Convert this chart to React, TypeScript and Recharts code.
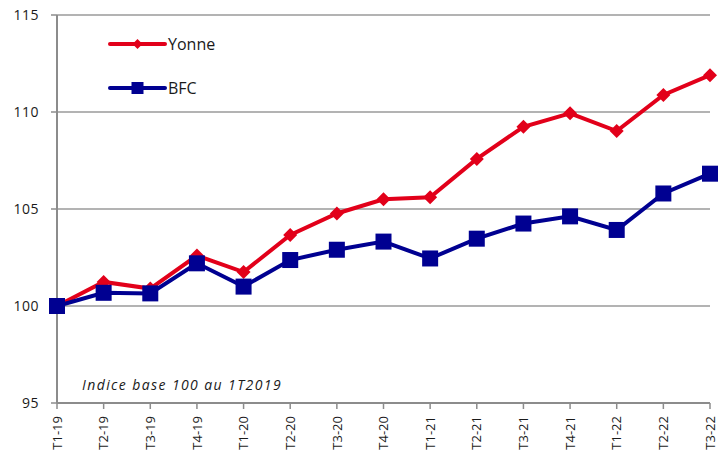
import * as React from 'react';
import { LineChart, Line, XAxis, YAxis, CartesianGrid } from 'recharts';

const quarters = ['T1-19', 'T2-19', 'T3-19', 'T4-19', 'T1-20', 'T2-20', 'T3-20', 'T4-20', 'T1-21', 'T2-21', 'T3-21', 'T4-21', 'T1-22', 'T2-22', 'T3-22'];
const yonne = [100, 101.24, 100.9, 102.6, 101.75, 103.66, 104.77, 105.5, 105.6, 107.58, 109.24, 109.93, 109.02, 110.88, 111.9];
const bfc = [100, 100.68, 100.65, 102.2, 101.0, 102.37, 102.9, 103.32, 102.45, 103.47, 104.25, 104.62, 103.92, 105.8, 106.82];
const yTicks = [95, 100, 105, 110, 115];
const note = 'Indice base 100 au 1T2019';

const data = quarters.map((q, i) => ({ name: q, Yonne: yonne[i], BFC: bfc[i] }));

const FONT = '"Open Sans", Lato, sans-serif';
const RED = '#e2001a';
const BLUE = '#000091';
const AXIS = '#8c8c8c';
const TEXT = '#1a1a1a';

const XTick = (props: any) => {
    const { x, y, payload } = props;
    return (
        <text transform={`translate(${x},${y}) rotate(-90)`} textAnchor="end" dy="0.36em"
            fontSize={13} fill={TEXT} fontFamily={FONT}>
            {payload.value}
        </text>
    );
};

const Diamond = (props: any) => {
    const { cx, cy } = props;
    if (cx == null || cy == null) return null;
    const r = 7;
    return <path d={`M${cx},${cy - r}L${cx + r},${cy}L${cx},${cy + r}L${cx - r},${cy}Z`} fill={RED} />;
};

const Square = (props: any) => {
    const { cx, cy } = props;
    if (cx == null || cy == null) return null;
    const s = 8;
    return <rect x={cx - s} y={cy - s} width={2 * s} height={2 * s} fill={BLUE} />;
};

// legend drawn as an overlay so it does not take space from the plot
const LegendBox = () => (
    <svg width={140} height={80} style={{ position: 'absolute', left: 108, top: 28 }}>
        <line x1={2} y1={16} x2={57} y2={16} stroke={RED} strokeWidth={4} strokeLinecap="round" />
        <path d="M29.5,11L34.5,16L29.5,21L24.5,16Z" fill={RED} />
        <text x={60} y={21.5} fontSize={16} fill={TEXT} fontFamily={FONT}>Yonne</text>
        <line x1={2} y1={60} x2={57} y2={60} stroke={BLUE} strokeWidth={4} strokeLinecap="round" />
        <rect x={23.5} y={54} width={12} height={12} fill={BLUE} />
        <text x={60} y={65.5} fontSize={16} fill={TEXT} fontFamily={FONT}>BFC</text>
    </svg>
);

export default function App() {
    return (
        <div style={{ margin: -8, position: 'relative', width: 728, height: 464, background: '#fff' }}>
            <LineChart width={728} height={464} data={data} margin={{ top: 15, right: 18, left: 0, bottom: 0 }}>
                <CartesianGrid vertical={false} stroke="#9a9a9a" strokeWidth={1.5} />
                <XAxis dataKey="name" interval={0} height={61} tick={<XTick />} tickSize={6} tickMargin={7}
                    axisLine={{ stroke: AXIS, strokeWidth: 2 }} tickLine={{ stroke: AXIS, strokeWidth: 1.5 }} />
                <YAxis domain={[95, 115]} ticks={yTicks} width={57} tickSize={6} tickMargin={12}
                    tick={{ fontSize: 14, fill: TEXT, fontFamily: FONT, letterSpacing: 0.5 }}
                    axisLine={{ stroke: AXIS, strokeWidth: 2 }} tickLine={{ stroke: AXIS, strokeWidth: 1.5 }} />
                <Line type="linear" dataKey="Yonne" stroke={RED} strokeWidth={4} dot={<Diamond />} activeDot={false} isAnimationActive={false} />
                <Line type="linear" dataKey="BFC" stroke={BLUE} strokeWidth={4} dot={<Square />} activeDot={false} isAnimationActive={false} />
            </LineChart>
            <LegendBox />
            <div style={{ position: 'absolute', left: 82, top: 375, fontFamily: FONT, fontStyle: 'italic', fontSize: 14, letterSpacing: 1.4, color: TEXT, whiteSpace: 'nowrap' }}>
                {note}
            </div>
        </div>
    );
}
